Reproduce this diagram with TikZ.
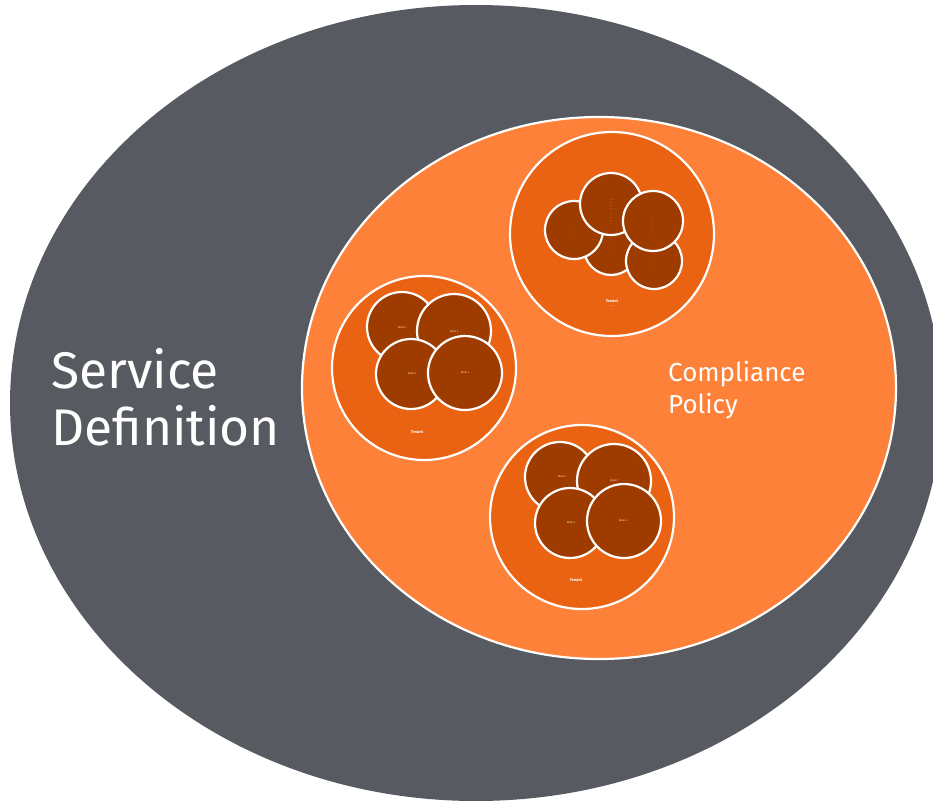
\documentclass[tikz,border=0pt]{standalone}
\usepackage{fontspec}
\setmainfont{Fira Sans}
\definecolor{greybg}{HTML}{575B61}
\definecolor{orangebig}{HTML}{FD8139}
\definecolor{orangemid}{HTML}{E96312}
\definecolor{brownin}{HTML}{9E3C00}
\begin{document}
\begin{tikzpicture}[x=1pt,y=-1pt,
  cluster/.style={fill=orangemid,draw=white,line width=2.2pt},
  member/.style={fill=brownin,draw=white,line width=2.2pt},
  tiny/.style={text=white!80!orange,font=\fontsize{2.6}{3}\selectfont,inner sep=0pt,align=center},
  tenant/.style={text=white,font=\bfseries\fontsize{4}{4.5}\selectfont,inner sep=0pt,align=center},
  biglabel/.style={text=white,font=\fontsize{51.5}{57}\selectfont,align=left,inner sep=0pt,anchor=north west},
  midlabel/.style={text=white,font=\fontsize{26}{32}\selectfont,align=left,inner sep=0pt,anchor=north west}]
\useasboundingbox (0,0) rectangle (933,800);
\fill[white] (0,0) rectangle (933,800);
% outer service ellipse
\fill[greybg] (476,403) ellipse [x radius=466pt, y radius=398pt];
% compliance ellipse
\filldraw[fill=orangebig,draw=white,line width=2.2pt] (599,388) ellipse [x radius=297pt, y radius=271pt];
% cluster 1
\filldraw[cluster] (612,234) circle [radius=102pt];
\filldraw[member] (611,248) circle [radius=27pt];
\filldraw[member] (654,261) circle [radius=28pt];
\filldraw[member] (574,230) circle [radius=29pt];
\filldraw[member] (611,204) circle [radius=31pt];
\filldraw[member] (653,221) circle [radius=30pt];
\node[tiny] (c1a) at (574,230) {·\\·\\·\\·};
\node[tiny] (c1b) at (611,211) {····\\····\\····\\····\\\\·\\····\\···};
\node[tiny] (c1c) at (653,226) {·\\·\\·\\·\\·\\·\\·};
\node[tiny] (c1d) at (611,247) {·\\·\\·};
\node[tiny] (c1e) at (654,263) {·\\·\\·};
\node[tenant] (t1) at (612,303) {Tenant\\[-0.4pt]{\mdseries\fontsize{2.5}{3}\selectfont ··········}};
% cluster 2
\filldraw[cluster] (424,368) circle [radius=92pt];
\filldraw[member] (402,327) circle [radius=35pt];
\filldraw[member] (454,331) circle [radius=37pt];
\filldraw[member] (411,374) circle [radius=35pt];
\filldraw[member] (465,373) circle [radius=37pt];
\node[tiny] (c2a) at (402,328) {Node 1};
\node[tiny] (c2b) at (454,332) {Node 2};
\node[tiny] (c2c) at (412,374) {Node 3};
\node[tiny] (c2d) at (465,373) {Node 4};
\node[tenant] (t2) at (417,432) {Tenant};
% cluster 3
\filldraw[cluster] (582,517) circle [radius=92pt];
\filldraw[member] (560,477) circle [radius=35pt];
\filldraw[member] (614,481) circle [radius=37pt];
\filldraw[member] (570,523) circle [radius=35pt];
\filldraw[member] (624,521) circle [radius=37pt];
\node[tiny] (c3a) at (562,477) {Node 1};
\node[tiny] (c3b) at (614,481) {Node 2};
\node[tiny] (c3c) at (571,523) {Node 3};
\node[tiny] (c3d) at (623,521) {Node 4};
\node[tenant] (t3) at (576,580) {Tenant};
% labels
\node[biglabel] (sd) at (51,348) {Service\\Definition};
\node[midlabel] (cp) at (668,361) {Compliance\\Policy};
\end{tikzpicture}
\end{document}
